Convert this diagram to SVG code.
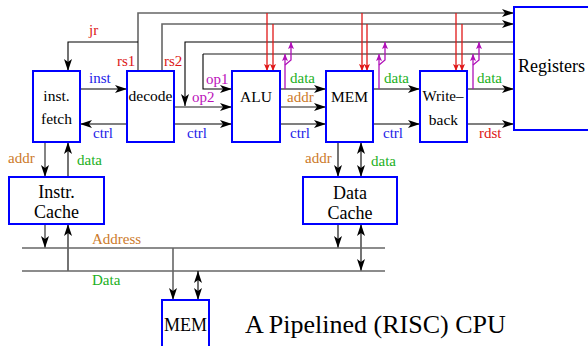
<svg xmlns="http://www.w3.org/2000/svg" width="588" height="346" viewBox="0 0 588 346">
<style>
text{font-family:"Liberation Serif","Times New Roman",serif;fill:#000}
.box{fill:#fff;stroke:#0000ff;stroke-width:2}
.n{font-size:15.5px;text-anchor:middle}
.big{font-size:18px;text-anchor:middle}
.lb{font-size:15px}
.blue{fill:#1c1ce8}.red{fill:#dd1515}.green{fill:#22b022}.orange{fill:#cc7a2a}.purple{fill:#bb10bb}
.k{fill:none;stroke:#000;stroke-width:1.1}
.g{fill:none;stroke:#666;stroke-width:1.6}
.r{fill:none;stroke:#e01818;stroke-width:1.3}
.p{fill:none;stroke:#b010b8;stroke-width:1.3}
.a{marker-end:url(#ah)}
.d{marker-start:url(#ah);marker-end:url(#ah)}
.ar{marker-end:url(#ahr)}
.ap{marker-end:url(#ahp)}
</style>
<defs>
<marker id="ah" viewBox="0 0 12 8" refX="12" refY="4" markerWidth="12" markerHeight="8" markerUnits="userSpaceOnUse" orient="auto-start-reverse"><path d="M0,0 L12,4 L0,8 L3,4 z" fill="#000"/></marker>
<marker id="ahr" viewBox="0 0 7 6" refX="7" refY="3" markerWidth="7" markerHeight="6" markerUnits="userSpaceOnUse" orient="auto"><path d="M0,0 L7,3 L0,6 L1.5,3 z" fill="#e01818"/></marker>
<marker id="ahp" viewBox="0 0 7 6" refX="7" refY="3" markerWidth="7" markerHeight="6" markerUnits="userSpaceOnUse" orient="auto"><path d="M0,0 L7,3 L0,6 L1.5,3 z" fill="#b010b8"/></marker>
</defs>

<g id="connectors">
<path class="g a" d="M138,71 V13 H514"/>
<path class="g a" d="M162,71 V24 H514"/>
<path class="k a" d="M138,42 H68 V71"/>
<path class="k a" d="M514,42 H185 V106"/>
<path class="g" d="M514,54 H203"/>
<path class="k a" d="M203,54 V89 H232"/>
<path class="g a" d="M174,107 H232"/>
<path class="k a" d="M80,89 H127"/>
<path class="k a" d="M127,124 H80"/>
<path class="k a" d="M174,124 H232"/>
<path class="k a" d="M280,89 H326"/>
<path class="g a" d="M280,107 H326"/>
<path class="k a" d="M280,124 H326"/>
<path class="k a" d="M373,89 H420"/>
<path class="k a" d="M373,124 H420"/>
<path class="k a" d="M467,89 H514"/>
<path class="k a" d="M467,124 H514"/>
<path class="r ar" d="M267,13 V71"/>
<path class="r ar" d="M273,24 V71"/>
<path class="r ar" d="M362,13 V71"/>
<path class="r ar" d="M367,24 V71"/>
<path class="r ar" d="M456,13 V71"/>
<path class="r ar" d="M462,24 V71"/>
<path class="p ap" d="M285,89 V54"/>
<path class="p ap" d="M285,65 L291,60 V42"/>
<path class="p ap" d="M379,89 V54"/>
<path class="p ap" d="M379,65 L385,60 V42"/>
<path class="p ap" d="M473,89 V54"/>
<path class="p ap" d="M473,65 L479,60 V42"/>
<path class="g a" d="M45,142 V177"/>
<path class="k a" d="M68,177 V142"/>
<path class="g a" d="M45,224 V248"/>
<path class="k a" d="M68,271 V224"/>
<path class="k a" d="M338,142 V177"/>
<path class="k d" d="M361,142 V177"/>
<path class="k a" d="M338,224 V248"/>
<path class="k d" d="M361,224 V271"/>
<path class="g" d="M22,248 H385"/>
<path class="g" d="M22,271 H385"/>
<path class="g a" d="M173,248 V300"/>
<path class="k d" d="M198,271 V300"/>
</g>

<g id="labels">
<text class="lb red" x="89" y="35">jr</text>
<text class="lb red" x="117" y="66">rs1</text>
<text class="lb red" x="164" y="66">rs2</text>
<text class="lb blue" x="89" y="83">inst</text>
<text class="lb purple" x="206" y="84">op1</text>
<text class="lb purple" x="192" y="102">op2</text>
<text class="lb green" x="290" y="83">data</text>
<text class="lb orange" x="287" y="102">addr</text>
<text class="lb green" x="384" y="83">data</text>
<text class="lb green" x="477" y="83">data</text>
<text class="lb blue" x="93" y="138">ctrl</text>
<text class="lb blue" x="187" y="138">ctrl</text>
<text class="lb blue" x="290" y="138">ctrl</text>
<text class="lb blue" x="383" y="138">ctrl</text>
<text class="lb red" x="479" y="138">rdst</text>
<text class="lb orange" x="8" y="163">addr</text>
<text class="lb green" x="77" y="165">data</text>
<text class="lb orange" x="305" y="163">addr</text>
<text class="lb green" x="371" y="166">data</text>
<text class="lb orange" x="92" y="244">Address</text>
<text class="lb green" x="92" y="285">Data</text>
</g>

<g id="fetch"><rect class="box" x="33" y="71" width="47" height="71"/><text class="n" x="56.5" y="101">inst.</text><text class="n" x="56.5" y="124">fetch</text></g>
<g id="decode"><rect class="box" x="127" y="71" width="47" height="71"/><text class="n" x="150.5" y="101">decode</text></g>
<g id="alu"><rect class="box" x="232" y="71" width="48" height="71"/><text class="n" x="256" y="102">ALU</text></g>
<g id="mem"><rect class="box" x="326" y="71" width="47" height="71"/><text class="n" x="349.5" y="102">MEM</text></g>
<g id="writeback"><rect class="box" x="420" y="71" width="47" height="71"/><text class="n" x="443" y="101" style="font-size:15px">Write–</text><text class="n" x="443.5" y="125">back</text></g>
<g id="registers"><rect class="box" x="514" y="7" width="90" height="123"/><text class="big" x="518" y="72" style="text-anchor:start">Registers</text></g>
<g id="icache"><rect class="box" x="9" y="177" width="95" height="47"/><text class="big" x="56.5" y="198">Instr.</text><text class="big" x="56.5" y="218">Cache</text></g>
<g id="dcache"><rect class="box" x="303" y="177" width="94" height="47"/><text class="big" x="350" y="199">Data</text><text class="big" x="350" y="219">Cache</text></g>
<g id="mainmem"><rect class="box" x="162" y="300" width="47" height="60"/><text class="big" x="185.5" y="331">MEM</text></g>
<text x="245" y="333" style="font-size:26px">A Pipelined (RISC) CPU</text>
</svg>
